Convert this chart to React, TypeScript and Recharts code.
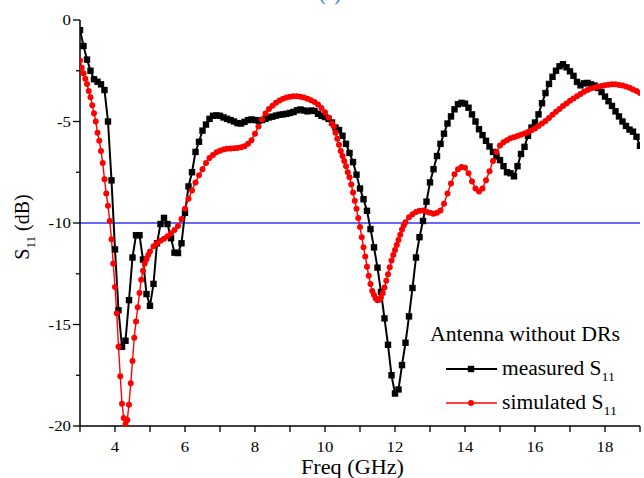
import React from 'react';
import { LineChart, Line, XAxis, YAxis, ReferenceLine } from 'recharts';

// Measured S11 (dB), sampled every 0.1 GHz from 3.0 GHz to 19.0 GHz
const MEASURED_START = 3.0;
const MEASURED_STEP = 0.1;
const measuredS11 = [
  -0.5, -1.28, -1.95, -2.5, -2.92, -3.04, -3.17, -3.45, -5.0, -7.9,
  -11.3, -14.3, -16.1, -15.8, -13.8, -11.7, -10.6, -10.6, -11.8, -13.5,
  -14.08, -13.0, -11.0, -10.05, -9.75, -10.05, -10.75, -11.46, -11.48, -11.0,
  -9.5, -8.2, -7.5, -6.5, -6.0, -5.45, -5.15, -4.87, -4.72, -4.7,
  -4.72, -4.8, -4.87, -4.93, -5.0, -5.08, -5.1, -5.02, -4.93, -4.9,
  -4.93, -4.96, -4.93, -4.87, -4.8, -4.76, -4.71, -4.67, -4.65, -4.62,
  -4.58, -4.53, -4.45, -4.41, -4.46, -4.5, -4.46, -4.48, -4.62, -4.72,
  -4.78, -4.87, -5.05, -5.3, -5.42, -5.7, -6.1, -6.55, -7.0, -7.62,
  -8.3, -8.83, -9.4, -10.3, -11.2, -12.2, -13.4, -14.7, -16.0, -17.5,
  -18.4, -18.2, -17.0, -15.9, -14.6, -13.2, -11.7, -10.7, -9.9, -8.95,
  -8.0, -7.35, -6.7, -6.1, -5.6, -5.1, -4.75, -4.4, -4.15, -4.08,
  -4.12, -4.32, -4.65, -5.0, -5.38, -5.67, -5.95, -6.23, -6.5, -6.72,
  -6.9, -7.2, -7.5, -7.55, -7.7, -7.2, -6.6, -6.25, -5.7, -5.3,
  -5.05, -4.65, -4.1, -3.6, -3.15, -2.8, -2.5, -2.28, -2.18, -2.33,
  -2.53, -2.75, -3.05, -3.22, -3.12, -3.1, -3.17, -3.23, -3.35, -3.55,
  -3.77, -4.0, -4.23, -4.5, -4.75, -5.0, -5.22, -5.4, -5.5, -5.75,
  -6.2,
];

// Simulated S11 (dB)
const simulatedFreq = [
  3.0, 3.05, 3.1, 3.15, 3.2, 3.25, 3.3, 3.35, 3.4, 3.45,
  3.5, 3.55, 3.6, 3.65, 3.7, 3.75, 3.8, 3.85, 3.9, 3.95,
  4.0, 4.05, 4.1, 4.15, 4.2, 4.25, 4.3, 4.35, 4.4, 4.45,
  4.5, 4.55, 4.6, 4.65, 4.7, 4.75, 4.8, 4.85, 4.9, 4.95,
  5.0,
  5.1, 5.2, 5.3, 5.4, 5.5, 5.6, 5.7, 5.8, 5.9, 6.0,
  6.1, 6.2, 6.3, 6.4, 6.5, 6.6, 6.7, 6.8, 6.9, 7.0,
  7.1, 7.2, 7.3, 7.4, 7.5, 7.6, 7.7, 7.8, 7.9, 8.0,
  8.1, 8.2, 8.3, 8.4, 8.5, 8.6, 8.7, 8.8, 8.9, 9.0,
  9.1, 9.2, 9.3, 9.4, 9.5, 9.6, 9.7, 9.8, 9.9, 10.0,
  10.1, 10.2,
  10.25, 10.3, 10.35, 10.4, 10.45, 10.5, 10.55, 10.6, 10.65, 10.7,
  10.75, 10.8, 10.85, 10.9, 10.95, 11.0, 11.05, 11.1, 11.15, 11.2,
  11.25, 11.3, 11.35, 11.4, 11.45, 11.5, 11.55, 11.6, 11.65, 11.7,
  11.75, 11.8, 11.85, 11.9, 11.95, 12.0, 12.05, 12.1, 12.15, 12.2,
  12.25, 12.3,
  12.4, 12.5, 12.6, 12.7, 12.8, 12.9, 13.0, 13.1, 13.2, 13.3,
  13.4, 13.5, 13.6, 13.7, 13.8, 13.9, 14.0, 14.1, 14.2, 14.3,
  14.4, 14.5, 14.6, 14.7, 14.8, 14.9, 15.0, 15.1, 15.2, 15.3,
  15.4, 15.5, 15.6, 15.7, 15.8, 15.9, 16.0, 16.1, 16.2, 16.3,
  16.4, 16.5, 16.6, 16.7, 16.8, 16.9, 17.0, 17.1, 17.2, 17.3,
  17.4, 17.5, 17.6, 17.7, 17.8, 17.9, 18.0, 18.1, 18.2, 18.3,
  18.4, 18.5, 18.6, 18.7, 18.8, 18.9, 19.0,
];
const simulatedS11 = [
  -2.0, -2.35, -2.62, -2.9, -3.15, -3.5, -3.8, -4.2, -4.59, -5.0,
  -5.55, -5.95, -6.45, -7.05, -7.85, -8.55, -9.15, -9.9, -10.8, -12.0,
  -13.15, -14.45, -16.1, -17.55, -18.9, -19.6, -19.9, -19.7, -18.95, -17.9,
  -16.8, -15.65, -14.85, -14.15, -13.45, -12.8, -12.35, -12.0, -11.78, -11.58,
  -11.4,
  -11.15, -11.0, -10.88, -10.77, -10.65, -10.5, -10.35, -10.15, -9.8, -9.3,
  -8.8, -8.4, -8.0, -7.65, -7.35, -7.05, -6.8, -6.65, -6.52, -6.44,
  -6.38, -6.34, -6.33, -6.32, -6.3, -6.27, -6.22, -6.1, -5.92, -5.6,
  -5.25, -4.9, -4.6, -4.38, -4.22, -4.08, -3.96, -3.88, -3.82, -3.78,
  -3.75, -3.75, -3.78, -3.82, -3.88, -3.95, -4.04, -4.16, -4.33, -4.55,
  -4.8, -5.1,
  -5.25, -5.55, -5.85, -6.15, -6.45, -6.7, -6.95, -7.2, -7.5, -7.75,
  -8.1, -8.5, -8.9, -9.3, -9.75, -10.2, -10.7, -11.2, -11.65, -12.15,
  -12.6, -13.0, -13.35, -13.55, -13.72, -13.8, -13.78, -13.67, -13.45, -13.18,
  -12.85, -12.52, -12.18, -11.85, -11.58, -11.33, -11.08, -10.84, -10.58, -10.32,
  -10.12, -9.96,
  -9.72, -9.57, -9.46, -9.4, -9.39, -9.45, -9.5, -9.55, -9.5, -9.38,
  -9.05, -8.55, -8.05, -7.6, -7.35, -7.24, -7.28, -7.55, -7.95, -8.3,
  -8.45, -8.3, -7.9, -7.45, -6.95, -6.5, -6.18, -6.02, -5.92, -5.83,
  -5.77, -5.71, -5.65, -5.59, -5.52, -5.43, -5.34, -5.22, -5.1, -4.97,
  -4.83, -4.67, -4.52, -4.38, -4.24, -4.11, -3.98, -3.87, -3.75, -3.64,
  -3.54, -3.45, -3.37, -3.32, -3.28, -3.25, -3.22, -3.19, -3.17, -3.17,
  -3.2, -3.23, -3.28, -3.34, -3.42, -3.5, -3.59,
];

const xTicks = [3, 4, 5, 6, 7, 8, 9, 10, 11, 12, 13, 14, 15, 16, 17, 18, 19];
const xTickLabels = [4, 6, 8, 10, 12, 14, 16, 18];
const yTicks = [0, -2.5, -5, -7.5, -10, -12.5, -15, -17.5, -20];
const yTickLabels = [0, -5, -10, -15, -20];
const REF_LEVEL = -10;

const measuredData = measuredS11.map((v, i) => ({
  f: Math.round((MEASURED_START + i * MEASURED_STEP) * 100) / 100,
  v,
}));
const simulatedData = simulatedFreq.map((f, i) => ({ f, v: simulatedS11[i] }));

const FONT = "Liberation Serif, Times New Roman, DejaVu Serif, serif";
const serifStyle = { fontFamily: FONT };
const STRETCH = 1.12;

const XTick = (props: any) => {
  const { x, y, payload } = props;
  const v = payload.value;
  const show = xTickLabels.includes(v);
  return (
    <g>
      <line x1={x} x2={x} y1={y} y2={y + 6} stroke="#000" strokeWidth={1.3} />
      {show && (
        <g transform={`translate(${x},${y + 26}) scale(${STRETCH},1)`}>
          <text x={0} y={0} textAnchor="middle" style={serifStyle} fontSize={15} fill="#000">
            {v}
          </text>
        </g>
      )}
    </g>
  );
};

const YTick = (props: any) => {
  const { x, y, payload } = props;
  const v = payload.value;
  const show = yTickLabels.includes(v);
  const len = show ? 7 : 4;
  return (
    <g>
      <line x1={x - len} x2={x} y1={y} y2={y} stroke="#000" strokeWidth={1.3} />
      {show && (
        <g transform={`translate(${x - 9},${y + 5}) scale(${STRETCH},1)`}>
          <text x={0} y={0} textAnchor="end" style={serifStyle} fontSize={15} fill="#000">
            {v}
          </text>
        </g>
      )}
    </g>
  );
};

const SquareDot = (p: any) => {
  if (p.cx == null || p.cy == null) return <g key={p.index} />;
  return <rect key={p.index} x={p.cx - 3.2} y={p.cy - 3.2} width={6.4} height={6.4} fill="#000" />;
};

const RoundDot = (p: any) => {
  if (p.cx == null || p.cy == null) return <g key={p.index} />;
  return <circle key={p.index} cx={p.cx} cy={p.cy} r={3} fill="#ff0000" />;
};

export default function App() {
  return (
    <div style={{ position: 'absolute', left: 0, top: 0, width: 644, height: 478, background: '#fff' }}>
      <LineChart width={644} height={478} margin={{ top: 20, right: 4, bottom: 0, left: 0 }}>
        <XAxis
          dataKey="f"
          type="number"
          domain={[3, 19]}
          ticks={xTicks}
          interval={0}
          height={52}
          allowDataOverflow
          axisLine={{ stroke: '#000', strokeWidth: 1.5 }}
          tickLine={false}
          tickSize={0}
          tickMargin={0}
          tick={<XTick />}
        />
        <YAxis
          dataKey="v"
          type="number"
          domain={[-20, 0]}
          ticks={yTicks}
          interval={0}
          width={80}
          allowDataOverflow
          axisLine={{ stroke: '#000', strokeWidth: 1.5 }}
          tickLine={false}
          tickSize={0}
          tickMargin={0}
          tick={<YTick />}
        />
        <ReferenceLine y={REF_LEVEL} stroke="#3636ff" strokeWidth={1.4} />
        <Line
          data={measuredData}
          dataKey="v"
          type="linear"
          stroke="#000"
          strokeWidth={2}
          dot={SquareDot}
          activeDot={false}
          isAnimationActive={false}
        />
        <Line
          data={simulatedData}
          dataKey="v"
          type="linear"
          stroke="#ff0000"
          strokeWidth={1.4}
          dot={RoundDot}
          activeDot={false}
          isAnimationActive={false}
        />
      </LineChart>
      <svg
        width={644}
        height={478}
        style={{ position: 'absolute', left: 0, top: 0, pointerEvents: 'none', fontFamily: FONT }}
      >
        <text x={330} y={0} textAnchor="middle" fontSize={20} fill="#1a6fd0" style={serifStyle}>(a)</text>
        <text x={301} y={474} fontSize={20} fill="#000" style={serifStyle} textLength={103} lengthAdjust="spacingAndGlyphs">
          Freq (GHz)
        </text>
        <text transform="translate(29,227) rotate(-90)" textAnchor="middle" fontSize={20} fill="#000" style={serifStyle}>
          S<tspan fontSize={13} dy={6}>11</tspan>
          <tspan dy={-6}> (dB)</tspan>
        </text>
        <text x={430} y={341} fontSize={20} fill="#000" textLength={190} lengthAdjust="spacingAndGlyphs" style={serifStyle}>
          Antenna without DRs
        </text>
        <line x1={446} x2={497} y1={369} y2={369} stroke="#000" strokeWidth={2} />
        <rect x={467.8} y={365.8} width={6.4} height={6.4} fill="#000" />
        <text x={502} y={375} fontSize={20} fill="#000" style={serifStyle} textLength={113} lengthAdjust="spacingAndGlyphs">
          measured S<tspan fontSize={13} dy={6}>11</tspan>
        </text>
        <line x1={446} x2={497} y1={403} y2={403} stroke="#ff0000" strokeWidth={1.4} />
        <circle cx={471} cy={403} r={3} fill="#ff0000" />
        <text x={502} y={409} fontSize={20} fill="#000" style={serifStyle} textLength={115} lengthAdjust="spacingAndGlyphs">
          simulated S<tspan fontSize={13} dy={6}>11</tspan>
        </text>
      </svg>
    </div>
  );
}
